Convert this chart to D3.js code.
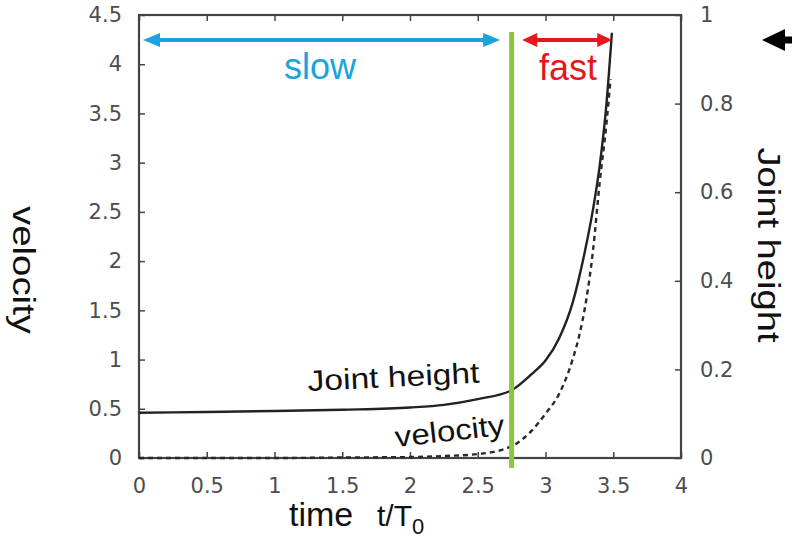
<!DOCTYPE html>
<html>
<head>
<meta charset="utf-8">
<script src="https://cdn.jsdelivr.net/npm/d3@7"></script>
<style>
  html, body { margin: 0; padding: 0; background: #fff; }
  svg { display: block; font-family: "Liberation Sans", Arial, Helvetica, sans-serif; }
</style>
</head>
<body>
<svg id="chart" width="792" height="540"></svg>
<script>
// Time samples (t/T0) and the two curves
const heightTimes = [0, 0.5, 1, 1.5, 2, 2.25, 2.5, 2.75, 2.9, 3.0, 3.1, 3.2, 3.25, 3.3, 3.35, 3.4, 3.45, 3.49];
const jointHeight = [0.102, 0.104, 0.106, 0.109, 0.114, 0.12, 0.133, 0.153, 0.19, 0.22, 0.27, 0.35, 0.41, 0.48, 0.56, 0.66, 0.80, 0.96];

const velocityTimes = [0, 0.5, 1, 1.5, 2, 2.25, 2.5, 2.75, 2.9, 3.0, 3.1, 3.2, 3.25, 3.3, 3.35, 3.4, 3.45, 3.48];
const velocity = [0.0, 0.0, 0.0, 0.005, 0.01, 0.02, 0.04, 0.12, 0.28, 0.45, 0.65, 1.0, 1.25, 1.6, 2.1, 2.8, 3.4, 3.85];

// Axis ticks
const timeTicks = [0, 0.5, 1, 1.5, 2, 2.5, 3, 3.5, 4];
const velocityTicks = [0, 0.5, 1, 1.5, 2, 2.5, 3, 3.5, 4, 4.5];
const heightTicks = [0, 0.2, 0.4, 0.6, 0.8, 1];

// Regime boundary and ranges
const switchTime = 2.75;
const slowRange = [0, 2.68];
const fastRange = [2.85, 3.5];

const svg = d3.select("#chart");
const plotL = 139, plotR = 681, plotT = 15, plotB = 458;

const x = d3.scaleLinear().domain([0, 4]).range([plotL, plotR]);
const yV = d3.scaleLinear().domain([0, 4.5]).range([plotB, plotT]);
const yH = d3.scaleLinear().domain([0, 1]).range([plotB, plotT]);

const axisColor = "#444";
const labelColor = "#4d4d4d";

// Axes with inward ticks
const gL = svg.append("g").attr("transform", `translate(${plotL},0)`)
  .call(d3.axisLeft(yV).tickValues(velocityTicks).tickSize(-6).tickPadding(17)
    .tickFormat(d3.format("")));
const gB = svg.append("g").attr("transform", `translate(0,${plotB})`)
  .call(d3.axisBottom(x).tickValues(timeTicks).tickSize(-6).tickPadding(20)
    .tickFormat(d3.format("")));
const gT = svg.append("g").attr("transform", `translate(0,${plotT})`)
  .call(d3.axisTop(x).tickValues(timeTicks).tickSize(-6).tickFormat(""));
const gR = svg.append("g").attr("transform", `translate(${plotR},0)`)
  .call(d3.axisRight(yH).tickValues(heightTicks).tickSize(-6).tickPadding(19)
    .tickFormat(d3.format("")));

[gL, gB, gT, gR].forEach(g => {
  g.select(".domain").remove();
  g.selectAll(".tick line").attr("stroke", axisColor).attr("stroke-width", 1.5);
  g.selectAll(".tick text").attr("fill", labelColor).attr("font-size", 21)
    .attr("font-family", "'DejaVu Sans', sans-serif");
});

// Plot frame
svg.append("rect")
  .attr("x", plotL).attr("y", plotT)
  .attr("width", plotR - plotL).attr("height", plotB - plotT)
  .attr("fill", "none").attr("stroke", axisColor).attr("stroke-width", 2.2);

// Curves
const heightLine = d3.line()
  .x((d, i) => x(heightTimes[i]))
  .y(d => yH(d))
  .curve(d3.curveMonotoneX);
const velocityLine = d3.line()
  .x((d, i) => x(velocityTimes[i]))
  .y(d => yV(d))
  .curve(d3.curveMonotoneX);

svg.append("path").datum(velocity)
  .attr("d", velocityLine)
  .attr("fill", "none").attr("stroke", "#2a2a2a")
  .attr("stroke-width", 2.4).attr("stroke-dasharray", "5,4");

svg.append("path").datum(jointHeight)
  .attr("d", heightLine)
  .attr("fill", "none").attr("stroke", "#222")
  .attr("stroke-width", 2.4);

// Regime boundary
svg.append("line")
  .attr("x1", x(switchTime)).attr("x2", x(switchTime))
  .attr("y1", 32).attr("y2", 468)
  .attr("stroke", "#8cc63f").attr("stroke-width", 5);

// Horizontal arrows with triangular heads
function hArrow(x1, x2, y, color, width, headLen, headHalf, startHead, endHead) {
  const g = svg.append("g");
  g.append("line")
    .attr("x1", startHead ? x1 + headLen - 1 : x1)
    .attr("x2", endHead ? x2 - headLen + 1 : x2)
    .attr("y1", y).attr("y2", y)
    .attr("stroke", color).attr("stroke-width", width);
  const head = (tip, dir) => g.append("path")
    .attr("d", `M${tip},${y} L${tip - dir * headLen},${y - headHalf} L${tip - dir * headLen},${y + headHalf} Z`)
    .attr("fill", color);
  if (startHead) head(x1, -1);
  if (endHead) head(x2, 1);
}

const arrowY = 40;
hArrow(x(slowRange[0]) + 4, x(slowRange[1]) - 2, arrowY, "#1ba3e0", 4, 17, 7, true, true);
hArrow(x(fastRange[0]) - 3, x(fastRange[1]) - 1, arrowY, "#e8161c", 4, 15, 7, true, true);
// Pointer arrow at the right edge
hArrow(762, 800, arrowY, "#000", 7, 23, 11, true, false);

// Range labels
svg.append("text").text("slow")
  .attr("x", 320).attr("y", 79).attr("text-anchor", "middle")
  .attr("font-size", 36).attr("fill", "#1ba3e0");
svg.append("text").text("fast")
  .attr("x", 568).attr("y", 80).attr("text-anchor", "middle")
  .attr("font-size", 36).attr("fill", "#e8161c");

// Curve labels
svg.append("text").text("Joint height")
  .attr("transform", "translate(308,391) rotate(-2.8)")
  .attr("font-size", 29).attr("fill", "#111")
  .attr("textLength", 172).attr("lengthAdjust", "spacingAndGlyphs");
svg.append("text").text("velocity")
  .attr("transform", "translate(396,447) rotate(-6.5)")
  .attr("font-size", 29).attr("fill", "#111")
  .attr("textLength", 110).attr("lengthAdjust", "spacingAndGlyphs");

// Axis titles
svg.append("text").text("velocity")
  .attr("transform", "translate(13,270) rotate(90)")
  .attr("text-anchor", "middle")
  .attr("font-size", 32).attr("fill", "#111")
  .attr("textLength", 128).attr("lengthAdjust", "spacingAndGlyphs");
svg.append("text").text("Joint height")
  .attr("transform", "translate(758,245) rotate(90)")
  .attr("text-anchor", "middle")
  .attr("font-size", 32).attr("fill", "#111")
  .attr("textLength", 195).attr("lengthAdjust", "spacingAndGlyphs");

const xTitle = svg.append("text").attr("y", 526).attr("fill", "#111");
xTitle.append("tspan").attr("x", 289).attr("font-size", 34).text("time");
xTitle.append("tspan").attr("x", 377).attr("font-size", 30).text("t/T");
xTitle.append("tspan").attr("dy", 8).attr("font-size", 22).text("0");
</script>
</body>
</html>
